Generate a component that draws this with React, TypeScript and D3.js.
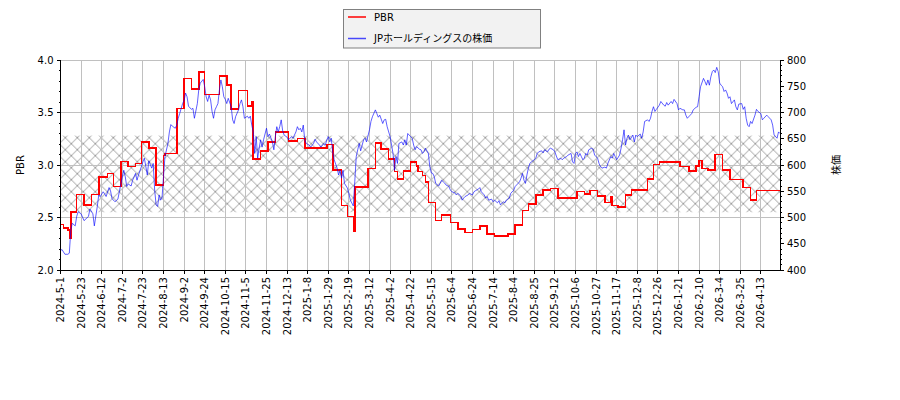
import React from 'react';
import * as d3 from 'd3';

// x axis is a trading-day index; a labelled tick every 14 days
const tickLabels = [
  '2024-5-1', '2024-5-23', '2024-6-12', '2024-7-2', '2024-7-23', '2024-8-13', '2024-9-2',
  '2024-9-24', '2024-10-15', '2024-11-5', '2024-11-25', '2024-12-13', '2025-1-8', '2025-1-29',
  '2025-2-19', '2025-3-12', '2025-4-2', '2025-4-22', '2025-5-15', '2025-6-4', '2025-6-24',
  '2025-7-14', '2025-8-4', '2025-8-25', '2025-9-12', '2025-10-6', '2025-10-27', '2025-11-17',
  '2025-12-8', '2025-12-26', '2026-1-21', '2026-2-10', '2026-3-4', '2026-3-25', '2026-4-13',
];
const tickStep = 14;
const lastDay = 489;

// PBR changes: [day index, value]
const pbrSteps: [number, number][] = [
  [0, 2.435], [2, 2.4], [5, 2.38], [6, 2.3], [7, 2.55], [11, 2.72], [16, 2.617], [21, 2.72],
  [26, 2.883], [32, 2.92], [36, 2.797], [41, 3.035], [46, 2.984], [51, 3.016], [55, 3.219],
  [60, 3.162], [65, 2.81], [70, 3.092], [71, 3.11], [79, 3.537], [84, 3.825], [89, 3.724],
  [94, 3.883], [98, 3.673], [108, 3.848], [113, 3.762], [116, 3.533], [121, 3.71], [127, 3.56],
  [130, 3.6], [131, 3.057], [136, 3.136], [141, 3.219], [146, 3.314], [155, 3.226], [161, 3.254],
  [166, 3.16], [181, 3.197], [185, 2.952], [191, 2.613], [195, 2.508], [199, 2.374], [200, 2.79],
  [209, 2.968], [214, 3.21], [218, 3.152], [223, 3.057], [227, 2.937], [229, 2.867], [233, 2.943],
  [238, 3.026], [242, 2.99], [243, 2.94], [246, 2.9], [248, 2.84], [250, 2.644], [255, 2.473],
  [259, 2.521], [265, 2.454], [270, 2.39], [275, 2.359], [280, 2.387], [285, 2.419], [290, 2.343],
  [295, 2.324], [304, 2.343], [309, 2.429], [314, 2.568], [318, 2.629], [323, 2.714], [328, 2.762],
  [333, 2.778], [338, 2.683], [351, 2.746], [356, 2.721], [360, 2.756], [365, 2.705], [370, 2.644],
  [374, 2.7], [375, 2.613], [379, 2.6], [384, 2.717], [388, 2.762], [399, 2.867], [403, 3.006],
  [407, 3.026], [421, 2.987], [427, 2.943], [432, 2.99], [434, 3.044], [436, 2.965], [440, 2.952],
  [445, 3.1], [450, 2.952], [455, 2.863], [464, 2.787], [469, 2.667], [473, 2.759], [489, 2.759],
];

// share price: [day index, yen]
const prices: [number, number][] = [
  [0, 437], [1, 439], [3, 430], [5, 430], [6, 432], [7, 476], [8, 489], [10, 484], [11, 502],
  [12, 511], [14, 507], [16, 494], [19, 502], [20, 516], [22, 507], [23, 484], [25, 521], [26, 543],
  [27, 540], [29, 549], [30, 545], [31, 540], [33, 557], [34, 551], [35, 536], [37, 530], [39, 535],
  [40, 549], [41, 564], [43, 590], [44, 578], [45, 559], [46, 564], [48, 560], [49, 571], [51, 584],
  [52, 571], [53, 581], [55, 597], [56, 606], [57, 613], [58, 597], [59, 581], [60, 608], [62, 594],
  [63, 603], [64, 552], [65, 524], [66, 521], [67, 543], [68, 533], [69, 537], [70, 578], [71, 616],
  [73, 641], [74, 663], [75, 677], [76, 674], [78, 670], [79, 676], [80, 689], [81, 698], [83, 717],
  [84, 723], [85, 737], [86, 730], [87, 712], [89, 706], [90, 708], [91, 689], [93, 717], [94, 744],
  [95, 756], [97, 763], [98, 749], [99, 730], [100, 721], [101, 733], [102, 724], [103, 702],
  [104, 689], [105, 705], [106, 711], [107, 717], [108, 743], [109, 762], [110, 749], [111, 730],
  [112, 725], [113, 717], [114, 727], [116, 711], [117, 686], [118, 679], [119, 692],
  [121, 705], [122, 717], [123, 724], [124, 711], [125, 689], [127, 693], [128, 689], [129, 693],
  [130, 676], [131, 663], [132, 622], [133, 654], [134, 613], [135, 632], [136, 648], [137, 634],
  [138, 648], [140, 670], [141, 654], [142, 659], [144, 644], [145, 629], [146, 654], [147, 673],
  [148, 663], [149, 673], [150, 686], [151, 665], [152, 657], [154, 653], [155, 648], [157, 654],
  [158, 651], [160, 663], [161, 673], [162, 667], [163, 670], [164, 663], [165, 676], [166, 648],
  [167, 641], [169, 638], [170, 634], [172, 641], [173, 649], [174, 644], [176, 638], [177, 634],
  [179, 641], [180, 638], [181, 648], [182, 654], [183, 644], [184, 651], [185, 625], [186, 610],
  [188, 594], [189, 581], [190, 590], [191, 575], [192, 590], [193, 565], [195, 556], [196, 546],
  [197, 533], [199, 522], [200, 568], [201, 616], [202, 629], [203, 641], [204, 627], [206, 648],
  [207, 651], [208, 644], [210, 667], [211, 683], [212, 692], [214, 705], [215, 698], [216, 691],
  [217, 695], [219, 679], [220, 686], [221, 687], [222, 673], [224, 654], [225, 638], [226, 622],
  [227, 590], [228, 616], [229, 603], [230, 641], [232, 644], [233, 638], [234, 648], [235, 638],
  [236, 660], [238, 654], [239, 651], [240, 638], [241, 629], [242, 635], [244, 630],
  [245, 629], [246, 622], [247, 625], [248, 632], [250, 622], [251, 597], [252, 585], [253, 584],
  [254, 578], [255, 565], [257, 560], [258, 565], [259, 571], [261, 566], [262, 562], [264, 559],
  [265, 552], [266, 549], [268, 547], [269, 543], [270, 546], [272, 541], [273, 533], [274, 537],
  [275, 540], [277, 543], [278, 546], [280, 543], [281, 549], [282, 551], [284, 554], [285, 557],
  [286, 549], [288, 543], [289, 537], [290, 540], [291, 533], [293, 535], [294, 530], [295, 533],
  [297, 528], [298, 532], [299, 524], [301, 530], [302, 528], [303, 533], [305, 537], [306, 546],
  [308, 552], [309, 559], [310, 562], [312, 568], [313, 575], [314, 584], [315, 571], [316, 565],
  [317, 581], [318, 594], [319, 603], [320, 606], [322, 610], [323, 613], [324, 622], [325, 625],
  [327, 627], [328, 623], [329, 629], [331, 625], [332, 630], [333, 632], [335, 629], [336, 625],
  [337, 617], [338, 610], [340, 613], [341, 610], [342, 613], [344, 616], [345, 619], [347, 622],
  [348, 606], [349, 603], [350, 622], [351, 625], [352, 616], [353, 622], [354, 616], [355, 610],
  [356, 613], [357, 622], [358, 619], [359, 629], [361, 632], [362, 630], [363, 619], [365, 613],
  [366, 603], [367, 597], [368, 594], [370, 596], [371, 594], [372, 603], [374, 616], [375, 613],
  [376, 622], [377, 616], [378, 610], [380, 619], [381, 632], [382, 648], [383, 667], [384, 638],
  [385, 651], [386, 657], [387, 648], [389, 657], [390, 644], [391, 657], [392, 654], [394, 659],
  [395, 651], [396, 663], [397, 683], [399, 686], [400, 683], [401, 689], [402, 702], [403, 711],
  [404, 702], [405, 706], [407, 714], [408, 721], [410, 714], [411, 712], [412, 719], [413, 714],
  [415, 721], [416, 717], [417, 725], [419, 717], [420, 705], [421, 708], [423, 705], [424, 705],
  [425, 695], [426, 689], [428, 695], [429, 698], [430, 705], [432, 710], [433, 711], [434, 730],
  [435, 749], [437, 765], [438, 759], [439, 752], [440, 762], [441, 752], [442, 768], [443, 778],
  [444, 781], [445, 776], [446, 786], [447, 778], [448, 756], [449, 752], [450, 749], [451, 740],
  [452, 743], [453, 737], [454, 727], [455, 730], [456, 717], [458, 724], [459, 711], [460, 705],
  [461, 716], [463, 717], [464, 706], [465, 711], [466, 689], [467, 676], [468, 673], [469, 683],
  [470, 679], [472, 695], [473, 706], [474, 702], [476, 698], [477, 686], [478, 689], [480, 695],
  [481, 692], [483, 686], [484, 676], [485, 657], [487, 651], [488, 663], [489, 660],
];

// hatched PBR band
const bandLow = 2.55;
const bandHigh = 3.28;

const pbrTicks = [2.0, 2.5, 3.0, 3.5, 4.0];
const priceTicks = [400, 450, 500, 550, 600, 650, 700, 750, 800];

const W = 900;
const H = 400;
const left = 60.5;
const right = 780;
const top = 60;
const bottom = 270;
const font = '"DejaVu Sans", "Noto Sans CJK JP", sans-serif';

const App: React.FC = () => {
  const x = d3.scaleLinear().domain([0, lastDay]).range([left, right]);
  const yL = d3.scaleLinear().domain([2, 4]).range([bottom, top]);
  const yR = d3.scaleLinear().domain([400, 800]).range([bottom, top]);

  const pbrLine = d3.line<[number, number]>()
    .x(d => x(d[0]))
    .y(d => yL(d[1]))
    .curve(d3.curveStepAfter);
  const priceLine = d3.line<[number, number]>()
    .x(d => x(d[0]))
    .y(d => yR(d[1]));

  const minorL = d3.range(20, 41).map(v => v / 10);
  const minorR = d3.range(400, 801, 10);

  return (
    <div>
      <style>{'body{margin:0}'}</style>
      <svg width={W} height={H} style={{ display: 'block', fontFamily: font }}>
        <defs>
          <pattern id="hatch" patternUnits="userSpaceOnUse" width={12} height={12} x={5.3} y={5.7}>
            <path d="M0,0L12,12M0,12L12,0M-1,1L1,-1M11,13L13,11M-1,11L1,13M11,-1L13,1"
              stroke="#a0a0a0" strokeWidth={1} fill="none" />
          </pattern>
          <clipPath id="plot">
            <rect x={left} y={top} width={right - left} height={bottom - top} />
          </clipPath>
        </defs>
        <rect x={0} y={0} width={W} height={H} fill="#fff" />

        {/* band */}
        <rect x={left} y={yL(bandHigh)} width={right - left} height={yL(bandLow) - yL(bandHigh)}
          fill="url(#hatch)" />

        {/* grid */}
        <g stroke="#c0c0c0" strokeWidth={1} shapeRendering="crispEdges">
          {tickLabels.map((_, i) => (
            <line key={i} x1={x(i * tickStep)} x2={x(i * tickStep)} y1={top} y2={bottom} />
          ))}
          {pbrTicks.map(t => (
            <line key={t} x1={left} x2={right} y1={yL(t)} y2={yL(t)} />
          ))}
        </g>

        <g clipPath="url(#plot)" fill="none">
          <path d={pbrLine(pbrSteps) || ''} stroke="#ff0000" strokeWidth={1.6}
            shapeRendering="crispEdges" />
          <path d={priceLine(prices) || ''} stroke="#0000ff" strokeOpacity={0.7} strokeWidth={0.9} />
        </g>

        {/* spines */}
        <g stroke="#000" strokeWidth={1} shapeRendering="crispEdges">
          <line x1={left} x2={left} y1={top} y2={bottom} />
          <line x1={right} x2={right} y1={top} y2={bottom} />
          <line x1={left} x2={right} y1={bottom} y2={bottom} />
        </g>

        {/* left axis */}
        <g stroke="#000" strokeWidth={1} shapeRendering="crispEdges">
          {minorL.map(t => (
            <line key={t} x1={left - 2} x2={left} y1={yL(t)} y2={yL(t)} />
          ))}
          {pbrTicks.map(t => (
            <line key={t} x1={left - 4} x2={left} y1={yL(t)} y2={yL(t)} />
          ))}
        </g>
        <g fontSize={10} fill="#000" textAnchor="end">
          {pbrTicks.map(t => (
            <text key={t} x={left - 7} y={yL(t)} dy="0.35em">{t.toFixed(1)}</text>
          ))}
        </g>
        <text transform={`translate(24,${(top + bottom) / 2}) rotate(-90)`} fontSize={10}
          textAnchor="middle">PBR</text>

        {/* right axis */}
        <g stroke="#000" strokeWidth={1} shapeRendering="crispEdges">
          {minorR.map(t => (
            <line key={t} x1={right} x2={right + 2} y1={yR(t)} y2={yR(t)} />
          ))}
          {priceTicks.map(t => (
            <line key={t} x1={right} x2={right + 4} y1={yR(t)} y2={yR(t)} />
          ))}
        </g>
        <g fontSize={10} fill="#000" textAnchor="start">
          {priceTicks.map(t => (
            <text key={t} x={right + 7} y={yR(t)} dy="0.35em">{t}</text>
          ))}
        </g>
        <text transform={`translate(840,${(top + bottom) / 2}) rotate(-90)`} fontSize={10}
          textAnchor="middle">株価</text>

        {/* bottom axis */}
        <g>
          {tickLabels.map((lab, i) => {
            const px = x(i * tickStep);
            return (
              <g key={lab}>
                <line x1={px} x2={px} y1={bottom} y2={bottom + 4} stroke="#000"
                  shapeRendering="crispEdges" />
                <text transform={`translate(${px},${bottom + 7}) rotate(-90)`} fontSize={10}
                  textAnchor="end" dy="0.35em">{lab}</text>
              </g>
            );
          })}
        </g>

        {/* legend */}
        <g>
          <rect x={343.5} y={9.5} width={197} height={38.5} fill="#f2f2f2" stroke="#808080" />
          <line x1={348} x2={366} y1={17} y2={17} stroke="#ff0000" strokeWidth={1.5} />
          <text x={374} y={17} dy="0.35em" fontSize={10}>PBR</text>
          <line x1={348} x2={366} y1={38.5} y2={38.5} stroke="#0000ff" strokeOpacity={0.7}
            strokeWidth={1.5} />
          <text x={374} y={38.5} dy="0.35em" fontSize={10}>JPホールディングスの株価</text>
        </g>
      </svg>
    </div>
  );
};

export default App;
